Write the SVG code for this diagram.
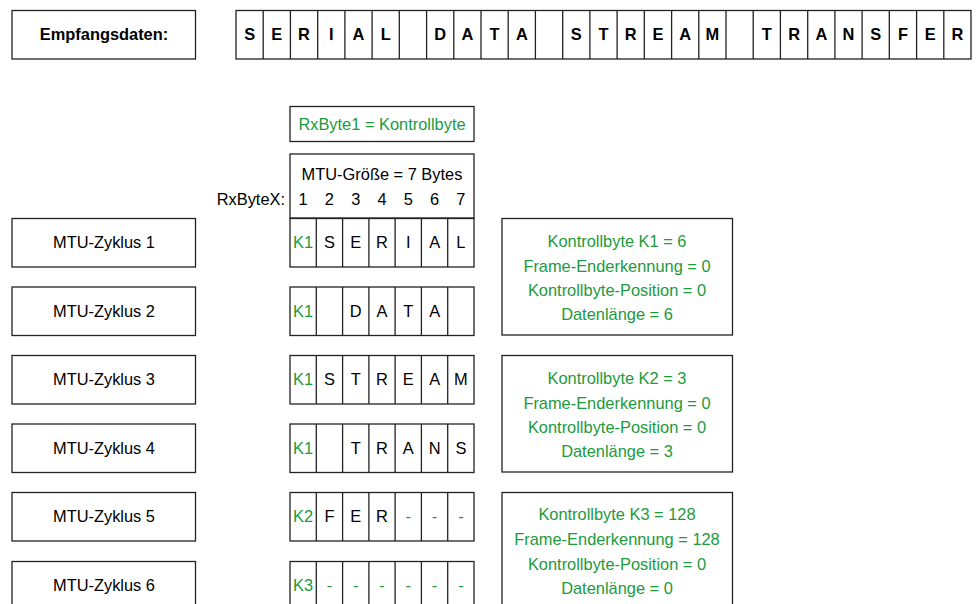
<svg xmlns="http://www.w3.org/2000/svg" width="978" height="604" viewBox="0 0 978 604">
<style>
rect{fill:#fff;stroke:#222;stroke-width:1.3}
text{font-family:"Liberation Sans",Arial,sans-serif;font-size:16.4px;fill:#000;text-anchor:middle}
.b{font-weight:bold}
.g{fill:#1d9a3c}
.r{text-anchor:end}
</style>
<rect width="978" height="604" style="stroke:none"/>
<g id="empfang">
<rect x="12" y="10.5" width="183.5" height="48.5"/>
<text class="b" x="104" y="40">Empfangsdaten:</text>
</g>
<g id="datastream">
<rect x="236" y="10.5" width="735" height="48.5"/>
<g style="stroke:#222;stroke-width:1.3">
<line x1="263.2" y1="10.5" x2="263.2" y2="59"/><line x1="290.4" y1="10.5" x2="290.4" y2="59"/><line x1="317.7" y1="10.5" x2="317.7" y2="59"/><line x1="344.9" y1="10.5" x2="344.9" y2="59"/><line x1="372.1" y1="10.5" x2="372.1" y2="59"/><line x1="399.3" y1="10.5" x2="399.3" y2="59"/><line x1="426.6" y1="10.5" x2="426.6" y2="59"/><line x1="453.8" y1="10.5" x2="453.8" y2="59"/><line x1="481" y1="10.5" x2="481" y2="59"/><line x1="508.2" y1="10.5" x2="508.2" y2="59"/><line x1="535.4" y1="10.5" x2="535.4" y2="59"/><line x1="562.7" y1="10.5" x2="562.7" y2="59"/><line x1="589.9" y1="10.5" x2="589.9" y2="59"/><line x1="617.1" y1="10.5" x2="617.1" y2="59"/><line x1="644.3" y1="10.5" x2="644.3" y2="59"/><line x1="671.6" y1="10.5" x2="671.6" y2="59"/><line x1="698.8" y1="10.5" x2="698.8" y2="59"/><line x1="726" y1="10.5" x2="726" y2="59"/><line x1="753.2" y1="10.5" x2="753.2" y2="59"/><line x1="780.4" y1="10.5" x2="780.4" y2="59"/><line x1="807.7" y1="10.5" x2="807.7" y2="59"/><line x1="834.9" y1="10.5" x2="834.9" y2="59"/><line x1="862.1" y1="10.5" x2="862.1" y2="59"/><line x1="889.3" y1="10.5" x2="889.3" y2="59"/><line x1="916.6" y1="10.5" x2="916.6" y2="59"/><line x1="943.8" y1="10.5" x2="943.8" y2="59"/>
</g>
<g class="b">
<text class="b" x="249.6" y="40">S</text><text class="b" x="276.8" y="40">E</text><text class="b" x="304" y="40">R</text><text class="b" x="331.3" y="40">I</text><text class="b" x="358.5" y="40">A</text><text class="b" x="385.7" y="40">L</text>
<text class="b" x="440.2" y="40">D</text><text class="b" x="467.4" y="40">A</text><text class="b" x="494.6" y="40">T</text><text class="b" x="521.8" y="40">A</text>
<text class="b" x="576.3" y="40">S</text><text class="b" x="603.5" y="40">T</text><text class="b" x="630.7" y="40">R</text><text class="b" x="657.9" y="40">E</text><text class="b" x="685.2" y="40">A</text><text class="b" x="712.4" y="40">M</text>
<text class="b" x="766.8" y="40">T</text><text class="b" x="794.1" y="40">R</text><text class="b" x="821.3" y="40">A</text><text class="b" x="848.5" y="40">N</text><text class="b" x="875.7" y="40">S</text><text class="b" x="903" y="40">F</text><text class="b" x="930.2" y="40">E</text><text class="b" x="957.4" y="40">R</text>
</g>
</g>
<g id="rxbyte1">
<rect x="290" y="106.5" width="184" height="35"/>
<text class="g" x="382" y="130">RxByte1 = Kontrollbyte</text>
</g>
<g id="mtuheader">
<rect x="290" y="154" width="184" height="64"/>
<text x="382" y="180">MTU-Größe = 7 Bytes</text>
<text class="r" x="285" y="205">RxByteX:</text>
<text x="303.1" y="205">1</text><text x="329.4" y="205">2</text><text x="355.7" y="205">3</text><text x="382" y="205">4</text><text x="408.3" y="205">5</text><text x="434.6" y="205">6</text><text x="460.9" y="205">7</text>
</g>
<defs>
<g id="cells">
<rect x="290" y="0" width="184" height="48.5"/>
<g style="stroke:#222;stroke-width:1.3">
<line x1="316.3" y1="0" x2="316.3" y2="48.5"/><line x1="342.6" y1="0" x2="342.6" y2="48.5"/><line x1="368.9" y1="0" x2="368.9" y2="48.5"/><line x1="395.1" y1="0" x2="395.1" y2="48.5"/><line x1="421.4" y1="0" x2="421.4" y2="48.5"/><line x1="447.7" y1="0" x2="447.7" y2="48.5"/>
</g>
</g>
</defs>
<g id="zyklus1">
<rect x="12" y="218.5" width="183.5" height="48.5"/>
<text x="104" y="248">MTU-Zyklus 1</text>
<use href="#cells" y="218.5"/>
<text class="g" x="303.1" y="248">K1</text><text x="329.4" y="248">S</text><text x="355.7" y="248">E</text><text x="382" y="248">R</text><text x="408.3" y="248">I</text><text x="434.6" y="248">A</text><text x="460.9" y="248">L</text>
</g>
<g id="zyklus2">
<rect x="12" y="287" width="183.5" height="48.5"/>
<text x="104" y="316.5">MTU-Zyklus 2</text>
<use href="#cells" y="287"/>
<text class="g" x="303.1" y="316.5">K1</text><text x="355.7" y="316.5">D</text><text x="382" y="316.5">A</text><text x="408.3" y="316.5">T</text><text x="434.6" y="316.5">A</text>
</g>
<g id="zyklus3">
<rect x="12" y="355.5" width="183.5" height="48.5"/>
<text x="104" y="385">MTU-Zyklus 3</text>
<use href="#cells" y="355.5"/>
<text class="g" x="303.1" y="385">K1</text><text x="329.4" y="385">S</text><text x="355.7" y="385">T</text><text x="382" y="385">R</text><text x="408.3" y="385">E</text><text x="434.6" y="385">A</text><text x="460.9" y="385">M</text>
</g>
<g id="zyklus4">
<rect x="12" y="424" width="183.5" height="48.5"/>
<text x="104" y="453.5">MTU-Zyklus 4</text>
<use href="#cells" y="424"/>
<text class="g" x="303.1" y="453.5">K1</text><text x="355.7" y="453.5">T</text><text x="382" y="453.5">R</text><text x="408.3" y="453.5">A</text><text x="434.6" y="453.5">N</text><text x="460.9" y="453.5">S</text>
</g>
<g id="zyklus5">
<rect x="12" y="492.5" width="183.5" height="48.5"/>
<text x="104" y="522">MTU-Zyklus 5</text>
<use href="#cells" y="492.5"/>
<text class="g" x="303.1" y="522">K2</text><text x="329.4" y="522">F</text><text x="355.7" y="522">E</text><text x="382" y="522">R</text><text class="g" x="408.3" y="522">-</text><text class="g" x="434.6" y="522">-</text><text class="g" x="460.9" y="522">-</text>
</g>
<g id="zyklus6">
<rect x="12" y="561.5" width="183.5" height="48.5"/>
<text x="104" y="591">MTU-Zyklus 6</text>
<use href="#cells" y="561.5"/>
<text class="g" x="303.1" y="591">K3</text><text class="g" x="329.4" y="591">-</text><text class="g" x="355.7" y="591">-</text><text class="g" x="382" y="591">-</text><text class="g" x="408.3" y="591">-</text><text class="g" x="434.6" y="591">-</text><text class="g" x="460.9" y="591">-</text>
</g>
<g id="info1">
<rect x="502" y="218.5" width="230.5" height="116.5"/>
<text class="g" x="617" y="247">Kontrollbyte K1 = 6</text>
<text class="g" x="617" y="271.5">Frame-Enderkennung = 0</text>
<text class="g" x="617" y="296">Kontrollbyte-Position = 0</text>
<text class="g" x="617" y="320">Datenlänge = 6</text>
</g>
<g id="info2">
<rect x="502" y="355.5" width="230.5" height="116.5"/>
<text class="g" x="617" y="384">Kontrollbyte K2 = 3</text>
<text class="g" x="617" y="408.5">Frame-Enderkennung = 0</text>
<text class="g" x="617" y="433">Kontrollbyte-Position = 0</text>
<text class="g" x="617" y="457">Datenlänge = 3</text>
</g>
<g id="info3">
<rect x="502" y="492.5" width="230.5" height="116.5"/>
<text class="g" x="617" y="520">Kontrollbyte K3 = 128</text>
<text class="g" x="617" y="545">Frame-Enderkennung = 128</text>
<text class="g" x="617" y="569.5">Kontrollbyte-Position = 0</text>
<text class="g" x="617" y="594">Datenlänge = 0</text>
</g>
<g id="connectors"/>
</svg>
